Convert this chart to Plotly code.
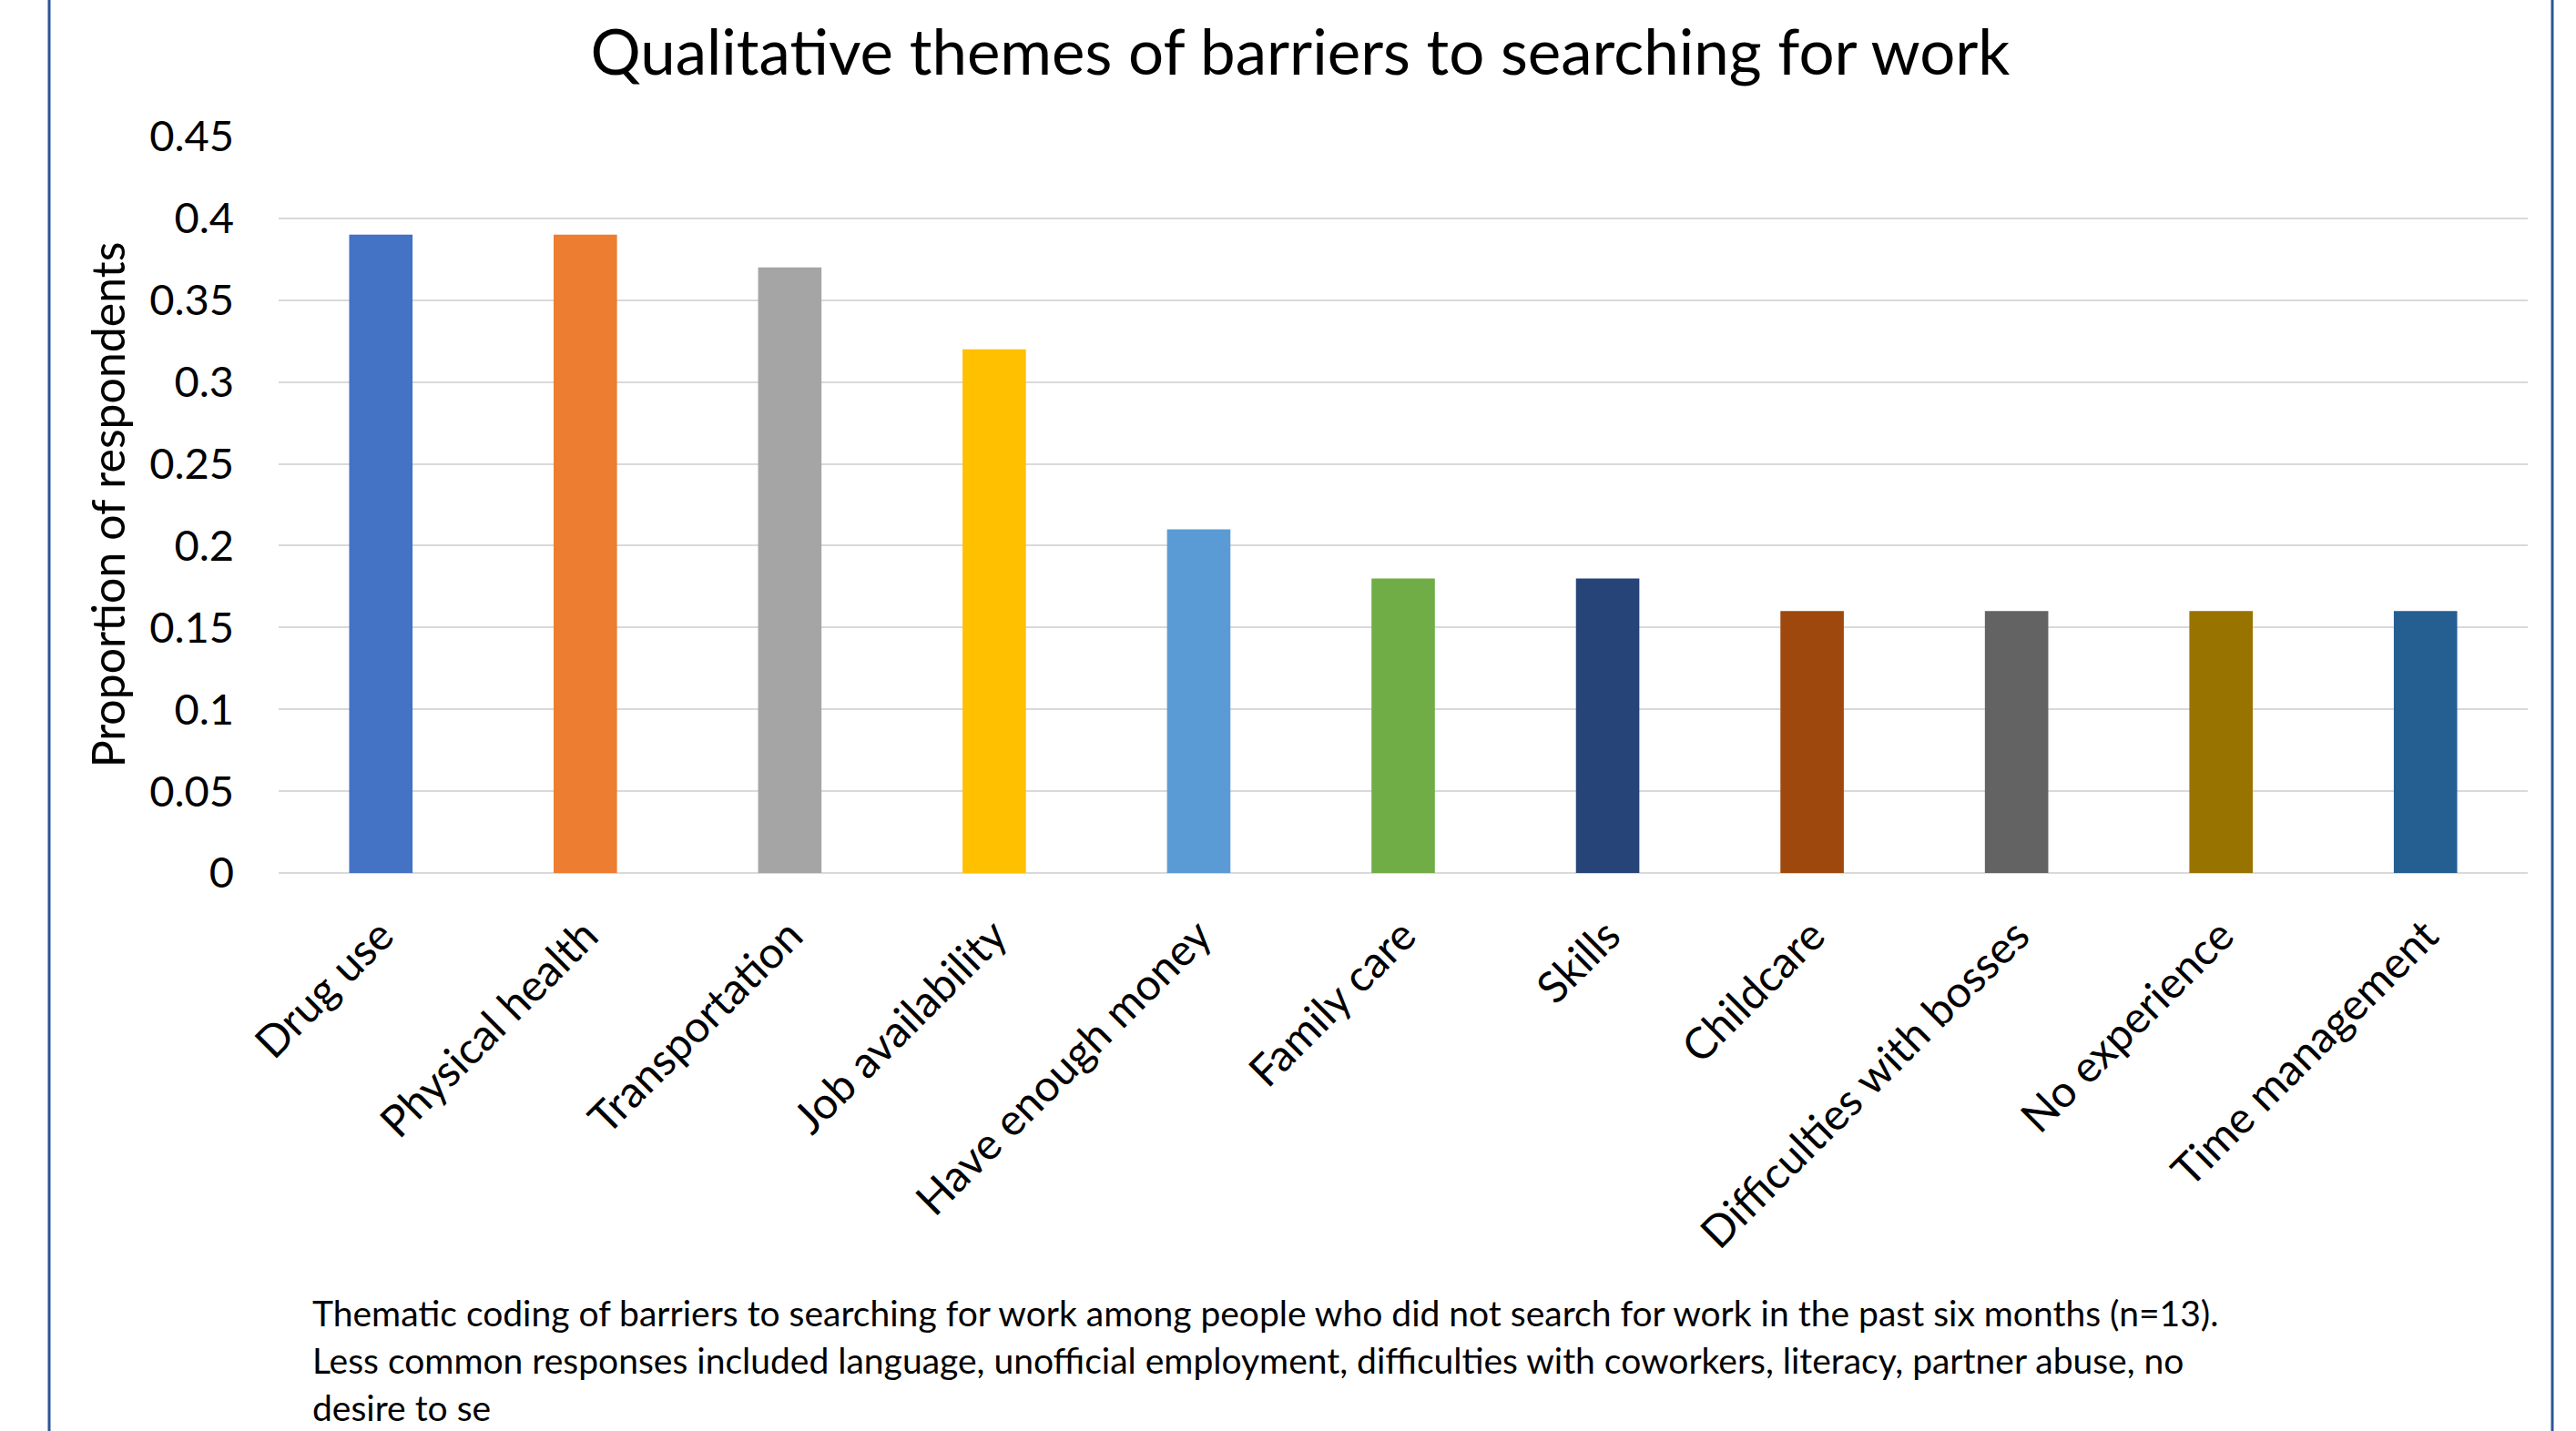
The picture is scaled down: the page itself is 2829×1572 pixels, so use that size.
import plotly.graph_objects as go

categories = ["Drug use", "Physical health", "Transportation", "Job availability",
              "Have enough money", "Family care", "Skills", "Childcare",
              "Difficulties with bosses", "No experience", "Time management"]
values = [0.39, 0.39, 0.37, 0.32, 0.21, 0.18, 0.18, 0.16, 0.16, 0.16, 0.16]
colors = ["#4472C4", "#ED7D31", "#A5A5A5", "#FFC000", "#5B9BD5", "#70AD47",
          "#264478", "#9E480E", "#636363", "#997300", "#255E91"]
tick_vals = [0, 0.05, 0.1, 0.15, 0.2, 0.25, 0.3, 0.35, 0.4, 0.45]
tick_text = ["0", "0.05", "0.1", "0.15", "0.2", "0.25", "0.3", "0.35", "0.4", "0.45"]

title_text = "Qualitative themes of barriers to searching for work"
y_title = "Proportion of respondents"
caption_lines = [
    "Thematic coding of barriers to searching for work among people who did not search for work in the past six months (n=13).",
    "Less common responses included language, unofficial employment, difficulties with coworkers, literacy, partner abuse, no",
    "desire to se",
]

FONT = "Lato, 'Open Sans', sans-serif"
W, H = 2829, 1572
L, R, T, B = 306, 53, 150, 613
PW, PH = W - L - R, H - T - B

fig = go.Figure(go.Bar(x=categories, y=values, marker=dict(color=colors, line=dict(width=0)),
                       width=0.31, showlegend=False))

caption_annotations = [
    dict(text=line, xref="paper", yref="paper", x=(341 - L) / PW,
         y=(959 - (1442 + 52 * i)) / PH, xanchor="left", yanchor="middle", align="left",
         showarrow=False, font=dict(size=39, family=FONT, color="black"))
    for i, line in enumerate(caption_lines)
]

fig.update_layout(
    width=W, height=H,
    margin=dict(l=L, r=R, t=T, b=B, pad=0),
    paper_bgcolor="white", plot_bgcolor="white",
    font=dict(family=FONT, color="black"),
    title=dict(text=title_text, x=1428 / W, xanchor="center", y=1 - 58 / H, yanchor="middle",
               font=dict(size=69, family=FONT, color="black")),
    xaxis=dict(tickangle=-45, tickfont=dict(size=48), showgrid=False, showline=False,
               ticks="", ticklabelstandoff=30, range=[-0.5, 10.5]),
    yaxis=dict(range=[0, 0.45], tickvals=tick_vals, ticktext=tick_text,
               tickfont=dict(size=47), showgrid=True, gridcolor="#D9D9D9", gridwidth=2,
               zeroline=True, zerolinecolor="#D9D9D9", zerolinewidth=2,
               showline=False, ticks="", ticklabelstandoff=48,
               title=dict(text=y_title, font=dict(size=50), standoff=10)),
    shapes=[
        dict(type="line", xref="paper", yref="paper",
             x0=(54 - L) / PW, x1=(54 - L) / PW, y0=-B / PH - 0.01,
             y1=1 + T / PH + 0.01, line=dict(color="#2F5597", width=3)),
        dict(type="line", xref="paper", yref="paper",
             x0=(2803 - L) / PW, x1=(2803 - L) / PW, y0=-B / PH - 0.01,
             y1=1 + T / PH + 0.01, line=dict(color="#2F5597", width=3)),
    ],
    annotations=caption_annotations,
)

fig.write_html("out.html")
